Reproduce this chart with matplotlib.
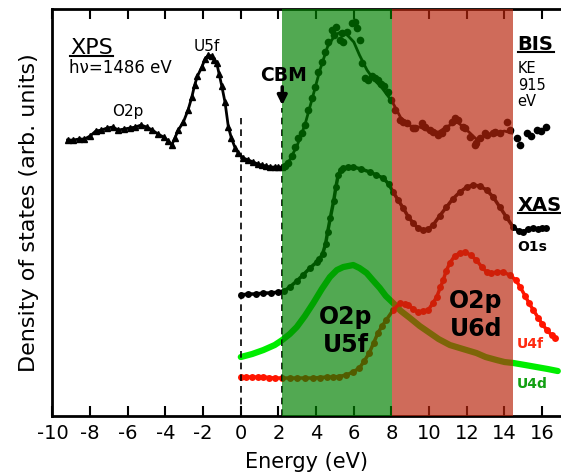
import matplotlib
matplotlib.use("Agg")
import matplotlib.pyplot as plt
from matplotlib.lines import Line2D

# energy axis ticks
energy_ticks = list(range(-10, 17, 2))

# XPS (hv = 1486 eV), triangles
xps_e = [-9.2, -8.9, -8.6, -8.3, -8.0, -7.7, -7.4, -7.1, -6.8, -6.5, -6.2, -5.9, -5.6,
         -5.3, -5.0, -4.7, -4.4, -4.1, -3.85, -3.67, -3.5, -3.32, -3.05, -2.8, -2.6,
         -2.45, -2.3, -2.07, -1.9, -1.72, -1.55, -1.4, -1.28, -1.15, -1.01, -0.84,
         -0.66, -0.5, -0.3, -0.13, 0.13, 0.4, 0.66, 0.9, 1.11, 1.35, 1.55, 1.8, 2.0, 2.2]
xps_i = [27.6, 27.6, 27.7, 27.7, 28.0, 28.5, 28.6, 28.8, 28.9, 28.6, 28.7, 28.8, 28.9,
         29.1, 28.9, 28.6, 28.2, 27.9, 27.5, 27.1, 27.8, 28.6, 29.4, 30.6, 31.9,
         33.1, 34.0, 34.9, 35.7, 36.1, 36.0, 35.6, 35.3, 34.2, 33.0, 31.4,
         28.9, 27.8, 26.8, 26.3, 25.8, 25.6, 25.4, 25.2, 25.1, 25.0, 24.9, 24.9, 24.9, 24.9]

# BIS (KE 915 eV), measured dots
bis_e = [2.34, 2.52, 2.70, 2.88, 3.05, 3.23, 3.41, 3.58, 3.76, 3.94, 4.11, 4.29, 4.47,
         4.64, 4.82, 4.95, 5.05, 5.26, 5.35, 5.45, 5.62, 5.88, 6.06, 6.18, 6.32, 6.45,
         6.59, 6.76, 6.95, 7.12, 7.30, 7.45, 7.62, 7.82, 8.0, 8.18, 8.45, 8.62, 8.80,
         9.15, 9.24, 9.60, 9.77, 10.04, 10.21, 10.48, 10.66, 10.92, 11.19, 11.36, 11.54,
         11.80, 11.89, 12.16, 12.42, 12.51, 12.69, 12.95, 13.05, 13.40, 13.49, 13.75,
         14.11, 14.28, 14.64, 14.81, 15.17, 15.43, 15.70, 15.96, 16.23]
bis_i = [25.0, 25.3, 26.0, 26.9, 27.8, 28.3, 29.1, 30.6, 31.8, 32.9, 34.4, 35.4, 36.4,
         37.4, 38.6, 38.1, 38.9, 37.6, 38.3, 37.4, 38.4, 39.3, 39.4, 38.8, 37.6, 35.3,
         33.8, 33.6, 34.0, 33.8, 33.6, 33.2, 33.0, 32.4, 31.6, 30.6, 29.6, 29.4, 29.3,
         28.8, 28.8, 29.3, 28.9, 28.6, 28.4, 28.1, 28.3, 28.8, 29.4, 29.8, 29.6,
         28.9, 28.8, 27.9, 27.1, 27.3, 27.8, 28.3, 28.1, 28.3, 28.4, 28.3,
         29.4, 28.6, 27.8, 27.1, 28.3, 28.0, 28.6, 28.5, 28.9]

# BIS smoothed fit
bis_fit_e = [2.2, 2.6, 3.0, 3.4, 3.8, 4.2, 4.6, 5.0, 5.3, 5.6, 6.0, 6.3, 6.7, 7.0, 7.5,
             8.05, 8.5, 9.0, 9.5, 10.0, 10.5, 11.0, 11.5, 12.0, 12.5, 13.0, 13.5, 14.0, 14.4]
bis_fit_i = [24.8, 25.6, 27.1, 29.1, 31.8, 34.6, 36.9, 38.1, 38.4, 38.2, 37.4, 36.1, 34.6,
             33.8, 32.8, 31.4, 29.8, 29.0, 28.9, 28.5, 28.4, 29.0, 29.4, 28.6, 27.7, 28.0,
             28.3, 28.5, 28.3]

# XAS O1s
xas_e = [0.0, 0.4, 0.8, 1.2, 1.6, 2.0, 2.3, 2.6, 2.97, 3.3, 3.67, 4.03, 4.17, 4.34, 4.5,
         4.61, 4.75, 4.93, 5.05, 5.17, 5.3, 5.44, 5.7, 5.97, 6.4, 6.85, 7.2, 7.56, 7.85,
         8.09, 8.35, 8.62, 8.9, 9.15, 9.4, 9.68, 9.95, 10.21, 10.55, 10.92, 11.25, 11.63,
         12.0, 12.33, 12.7, 13.05, 13.4, 13.75, 14.1, 14.46, 14.75, 14.99, 15.25, 15.52,
         15.8, 16.0, 16.23]
xas_i = [12.1, 12.2, 12.2, 12.3, 12.3, 12.4, 12.5, 12.9, 13.5, 14.1, 14.8, 15.4, 15.7, 16.2,
         17.2, 18.4, 19.8, 21.5, 22.9, 24.1, 24.6, 24.8, 24.9, 24.9, 24.7, 24.4, 24.1, 23.8,
         23.2, 22.4, 21.6, 20.8, 19.9, 19.3, 18.8, 18.6, 18.7, 19.1, 20.0, 20.9, 21.7, 22.4,
         22.9, 23.1, 23.0, 22.6, 21.9, 20.9, 19.9, 18.9, 18.5, 18.4, 18.7, 18.8,
         18.7, 18.8, 18.8]

# U4d
u4d_e = [0.0, 0.6, 1.2, 1.8, 2.2, 2.6, 2.97, 3.4, 3.85, 4.3, 4.73, 5.1, 5.44, 5.97, 6.3,
         6.68, 7.0, 7.38, 7.7, 8.09, 8.5, 8.98, 9.5, 10.04, 10.5, 11.1, 11.8, 12.51, 13.0,
         13.58, 14.0, 14.48, 15.1, 15.7, 16.3, 16.83]
u4d_i = [5.9, 6.2, 6.6, 7.1, 7.6, 8.2, 8.9, 10.0, 11.3, 12.7, 13.9, 14.6, 14.9, 15.1, 14.8,
         14.3, 13.6, 12.8, 12.0, 11.3, 10.5, 9.8, 9.0, 8.3, 7.7, 7.1, 6.7, 6.3, 5.9,
         5.6, 5.4, 5.3, 5.1, 4.9, 4.7, 4.5]

# U4f
u4f_e = [0.0, 0.3, 0.6, 0.9, 1.2, 1.5, 1.8, 2.2, 2.6, 3.0, 3.4, 3.85, 4.2, 4.6, 4.9, 5.2,
         5.6, 5.95, 6.3, 6.55, 6.82, 7.05, 7.28, 7.5, 7.72, 8.09, 8.45, 8.7, 8.9, 9.15,
         9.4, 9.65, 9.95, 10.2, 10.4, 10.6, 10.75, 10.9, 11.1, 11.35, 11.62, 11.9, 12.2,
         12.5, 12.8, 13.05, 13.3, 13.6, 13.9, 14.29, 14.6, 14.83, 15.1, 15.3, 15.53, 15.8,
         16.0, 16.25, 16.5, 16.7]
u4f_i = [3.9, 3.9, 3.9, 3.9, 3.9, 3.85, 3.8, 3.8, 3.8, 3.8, 3.8, 3.8, 3.85, 3.9, 3.9, 3.95,
         4.1, 4.4, 4.8, 5.5, 6.3, 7.3, 8.3, 9.0, 9.6, 10.6, 11.3, 11.2, 11.1, 10.7,
         10.4, 10.5, 10.6, 11.3, 11.9, 12.9, 13.6, 14.5, 15.3, 16.0, 16.3, 16.4, 16.1,
         15.6, 14.9, 14.4, 14.3, 14.4, 14.4, 14.1, 13.6, 12.9, 12.0, 11.3, 10.6, 9.8,
         9.2, 8.6, 8.1, 7.8]

# shaded regions (eV)
cbm = 2.2
o2p_u5f = (2.2, 8.05)
o2p_u6d = (8.05, 14.45)

plt.rcParams['font.family'] = ['DejaVu Sans']
plt.rcParams['axes.unicode_minus'] = False

fig = plt.figure(figsize=(5.61, 4.76), dpi=100)
ax = fig.add_axes([0.0935, 0.126, 0.9065, 0.855])

ax.plot(u4d_e, u4d_i, color='#00ee00', lw=4.5, solid_capstyle='round', zorder=2)
ax.plot(u4f_e, u4f_i, color='#ff1500', lw=2.5, marker='o', ms=5, mec='none', zorder=2)
ax.plot(xas_e, xas_i, color='black', lw=2.5, marker='o', ms=5, mec='none', zorder=2)
ax.plot(bis_fit_e, bis_fit_i, color='black', lw=2, zorder=2)
ax.plot(bis_e, bis_i, ls='none', color='black', marker='o', ms=5.5, mec='none', zorder=2)
ax.plot(xps_e, xps_i, color='black', lw=2, marker='^', ms=5, zorder=2)

ax.axvline(0, ymin=0, ymax=0.732, color='black', lw=1.2, ls=(0, (4, 3)), zorder=2)
ax.axvline(cbm, ymin=0, ymax=0.757, color='black', lw=1.2, ls=(0, (4, 3)), zorder=2)

ax.axvspan(*o2p_u5f, color=(0, 128 / 255, 0), alpha=0.68, lw=0, zorder=3)
ax.axvspan(*o2p_u6d, color=(185 / 255, 37 / 255, 12 / 255), alpha=0.68, lw=0, zorder=3)

ax.set_xlim(-10.0, 17.0)
ax.set_ylim(0, 40.7)
ax.set_xticks(energy_ticks)
ax.set_yticks([])
ax.tick_params(axis='x', direction='in', top=True, length=7, width=1.5,
               labelsize=14, pad=6)
for side in ['left', 'bottom', 'top']:
    ax.spines[side].set_linewidth(2)
ax.spines['right'].set_visible(False)

ax.set_xlabel('Energy (eV)', fontsize=15, labelpad=6)
ax.set_ylabel('Density of states (arb. units)', fontsize=16, labelpad=10)

# annotations
t_xps = ax.text(-9.06, 36.85, 'XPS', fontsize=16, ha='left', va='center', zorder=5)
ax.text(-9.11, 34.8, 'h\u03bd=1486 eV', fontsize=12, ha='left', va='center', zorder=5)
ax.text(-5.98, 30.5, 'O2p', fontsize=11, ha='center', va='center', zorder=5)
ax.text(-1.79, 37.0, 'U5f', fontsize=11, ha='center', va='center', zorder=5)
ax.text(2.27, 34.1, 'CBM', fontsize=13.5, fontweight='bold', ha='center', va='center', zorder=5)
ax.annotate('', xy=(cbm, 30.8), xytext=(cbm, 33.2),
            arrowprops=dict(arrowstyle='-|>', color='black', lw=2.5, mutation_scale=14),
            zorder=5)
t_bis = ax.text(14.7, 37.2, 'BIS', fontsize=14, fontweight='bold', ha='left', va='center', zorder=5)
ax.text(14.7, 33.1, 'KE\n915\neV', fontsize=10.5, ha='left', va='center', linespacing=1.15, zorder=5)
t_xas = ax.text(14.7, 21.1, 'XAS', fontsize=14, fontweight='bold', ha='left', va='center', zorder=5)
ax.text(14.7, 16.9, 'O1s', fontsize=10, fontweight='bold', ha='left', va='center', zorder=5)
ax.text(14.65, 7.2, 'U4f', fontsize=10, fontweight='bold', color='#ff2a10', ha='left', va='center', zorder=5)
ax.text(14.65, 3.2, 'U4d', fontsize=10, fontweight='bold', color='#12a012', ha='left', va='center', zorder=5)
ax.text(5.58, 8.5, 'O2p\nU5f', fontsize=17, fontweight='bold', ha='center', va='center',
        linespacing=1.2, zorder=5)
ax.text(12.48, 10.1, 'O2p\nU6d', fontsize=17, fontweight='bold', ha='center', va='center',
        linespacing=1.2, zorder=5)

# underline the method labels
fig.canvas.draw()
inv = fig.transFigure.inverted()
for t in (t_xps, t_bis, t_xas):
    bb = t.get_window_extent()
    (x0, y0), (x1, _) = inv.transform([(bb.x0, bb.y0 + 2), (bb.x1, bb.y0 + 2)])
    fig.add_artist(Line2D([x0, x1], [y0, y0], color='black', lw=1.5))

fig.savefig('out.png', dpi=100)
